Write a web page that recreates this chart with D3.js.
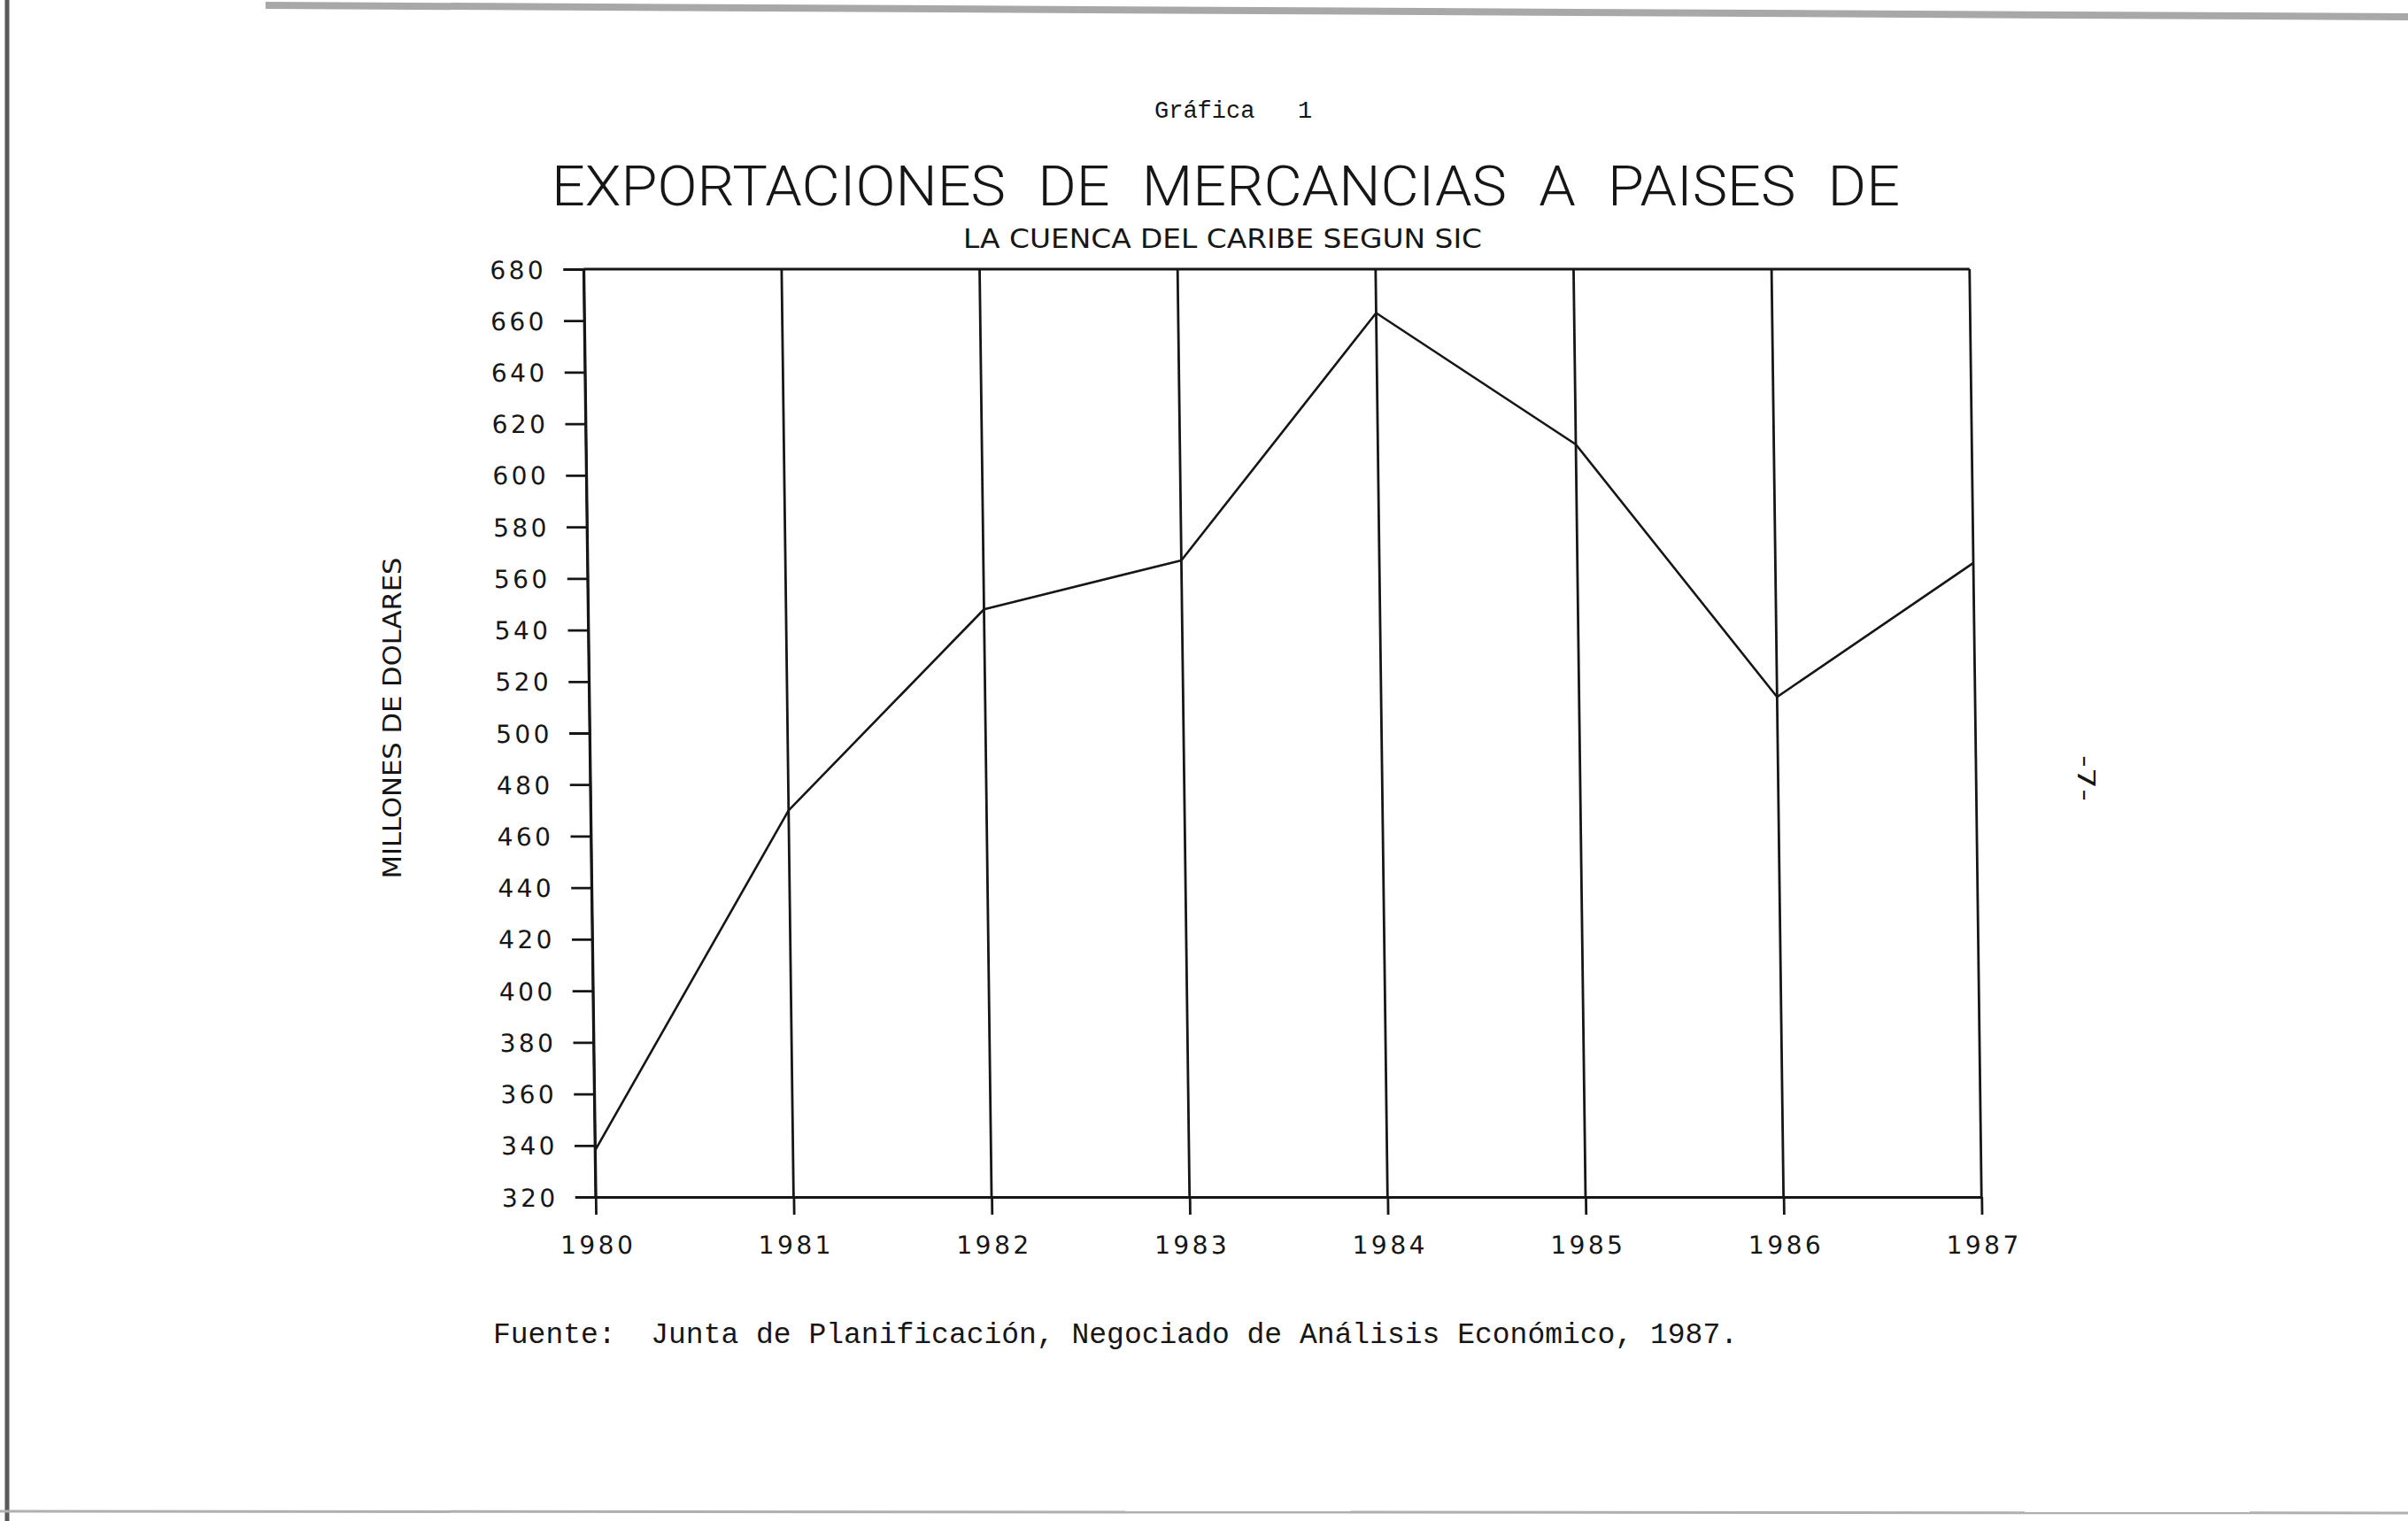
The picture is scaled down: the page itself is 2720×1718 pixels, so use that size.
<!DOCTYPE html>
<html>
<head>
<meta charset="utf-8">
<script src="https://cdn.jsdelivr.net/npm/d3@7"></script>
<style>
  html, body { margin: 0; padding: 0; background: #ffffff; }
  svg { display: block; }
</style>
</head>
<body>
<svg id="chart" width="2720" height="1718"></svg>
<script>
// ---- data ----
const years = [1980, 1981, 1982, 1983, 1984, 1985, 1986, 1987];
const exportsValues = [338, 470, 548, 567, 663, 612, 514, 566];
const yTickValues = [320, 340, 360, 380, 400, 420, 440, 460, 480, 500, 520, 540, 560, 580, 600, 620, 640, 660, 680];
const pageLabel = "Gráfica   1";
const titleText = "EXPORTACIONES DE MERCANCIAS A PAISES DE";
const subtitleText = "LA CUENCA DEL CARIBE SEGUN SIC";
const yAxisTitle = "MILLONES DE DOLARES";
const sourceText = "Fuente:  Junta de Planificación, Negociado de Análisis Económico, 1987.";
const pageNumber = "-7-";

const svg = d3.select("#chart");
const ink = "#161616";

// ---- scanned page edges ----
svg.append("rect").attr("x", 0).attr("y", 0).attr("width", 2720).attr("height", 1718).attr("fill", "#ffffff");
svg.append("line").attr("x1", 8).attr("x2", 8).attr("y1", 0).attr("y2", 1718)
  .attr("stroke", "#5a5a5a").attr("stroke-width", 5);
svg.append("line").attr("x1", 0).attr("x2", 2720).attr("y1", 1707).attr("y2", 1709)
  .attr("stroke", "#b0b0b0").attr("stroke-width", 3);
svg.append("line").attr("x1", 300).attr("x2", 2720).attr("y1", 6).attr("y2", 19)
  .attr("stroke", "#a8a8a8").attr("stroke-width", 8);

// ---- headings ----
svg.append("text").attr("x", 1304).attr("y", 133)
  .attr("font-family", "'Liberation Mono', 'DejaVu Sans Mono', monospace")
  .attr("font-size", 27).attr("fill", ink)
  .style("white-space", "pre").text(pageLabel);

svg.append("text").attr("x", 623).attr("y", 232)
  .attr("font-family", "Roboto, 'DejaVu Sans', sans-serif").attr("font-weight", 300)
  .attr("font-size", 63).attr("fill", ink)
  .attr("word-spacing", 19)
  .attr("textLength", 1523).attr("lengthAdjust", "spacingAndGlyphs")
  .text(titleText);

svg.append("text").attr("x", 1088).attr("y", 280)
  .attr("font-family", "'DejaVu Sans', sans-serif")
  .attr("font-size", 30).attr("fill", ink)
  .attr("textLength", 586).attr("lengthAdjust", "spacingAndGlyphs")
  .text(subtitleText);

// ---- chart (slightly skewed like the scanned page) ----
const yTop = 304, yBot = 1352, yMid = (yTop + yBot) / 2;
const skewDeg = Math.atan(0.0129) * 180 / Math.PI;
const g = svg.append("g")
  .attr("transform", `translate(0,${yMid}) skewX(${skewDeg}) translate(0,${-yMid})`);

const x = d3.scalePoint().domain(years).range([666, 2231.5]);
const y = d3.scaleLinear().domain([320, 680]).range([yBot, yTop]);

// vertical grid lines at each year
g.append("g").selectAll("line").data(years).join("line")
  .attr("x1", d => x(d)).attr("x2", d => x(d))
  .attr("y1", y(680)).attr("y2", y(320))
  .attr("stroke", ink).attr("stroke-width", 2.8);

// top border
g.append("line")
  .attr("x1", x(1980)).attr("x2", x(1987))
  .attr("y1", y(680)).attr("y2", y(680))
  .attr("stroke", ink).attr("stroke-width", 2.8);

// y axis
const yAxis = g.append("g").attr("transform", `translate(${x(1980)},0)`)
  .call(d3.axisLeft(y).tickValues(yTickValues).tickSize(23).tickSizeOuter(0).tickFormat(d3.format("d")));
yAxis.selectAll("path, line").attr("stroke", ink).attr("stroke-width", 2.8);
yAxis.selectAll("text")
  .attr("x", -42).attr("dy", "0.36em")
  .attr("font-family", "'DejaVu Sans', sans-serif").attr("font-size", 28)
  .attr("letter-spacing", 3.5).attr("fill", ink);

// x axis
const xAxis = g.append("g").attr("transform", `translate(0,${yBot})`)
  .call(d3.axisBottom(x).tickSize(20).tickSizeOuter(0));
xAxis.selectAll("path, line").attr("stroke", ink).attr("stroke-width", 2.8);
xAxis.selectAll("text")
  .attr("y", 64).attr("dy", null).attr("dx", 1.75)
  .attr("font-family", "'DejaVu Sans', sans-serif").attr("font-size", 28)
  .attr("letter-spacing", 3.5).attr("fill", ink);
g.selectAll(".domain").attr("stroke", ink).attr("stroke-width", 2.8);

// data line
const line = d3.line().x((d, i) => x(years[i])).y(d => y(d));
g.append("path").datum(exportsValues)
  .attr("d", line).attr("fill", "none")
  .attr("stroke", ink).attr("stroke-width", 2.6).attr("stroke-linejoin", "round");

// y axis title
svg.append("text")
  .attr("transform", "translate(443,811) rotate(-90)")
  .attr("text-anchor", "middle").attr("dominant-baseline", "central")
  .attr("font-family", "'DejaVu Sans', sans-serif").attr("font-size", 28)
  .attr("fill", ink).attr("textLength", 363).attr("lengthAdjust", "spacingAndGlyphs")
  .text(yAxisTitle);

// source
svg.append("text").attr("x", 557).attr("y", 1517)
  .attr("font-family", "'Liberation Mono', 'DejaVu Sans Mono', monospace")
  .attr("font-size", 33).attr("fill", ink)
  .style("white-space", "pre").text(sourceText);

// page number (rotated)
svg.append("text")
  .attr("transform", "translate(2356,879) rotate(90)")
  .attr("text-anchor", "middle").attr("dominant-baseline", "central")
  .attr("font-family", "'DejaVu Sans', sans-serif").attr("font-size", 27)
  .attr("fill", ink).attr("textLength", 52).attr("lengthAdjust", "spacingAndGlyphs")
  .text(pageNumber);
</script>
</body>
</html>
